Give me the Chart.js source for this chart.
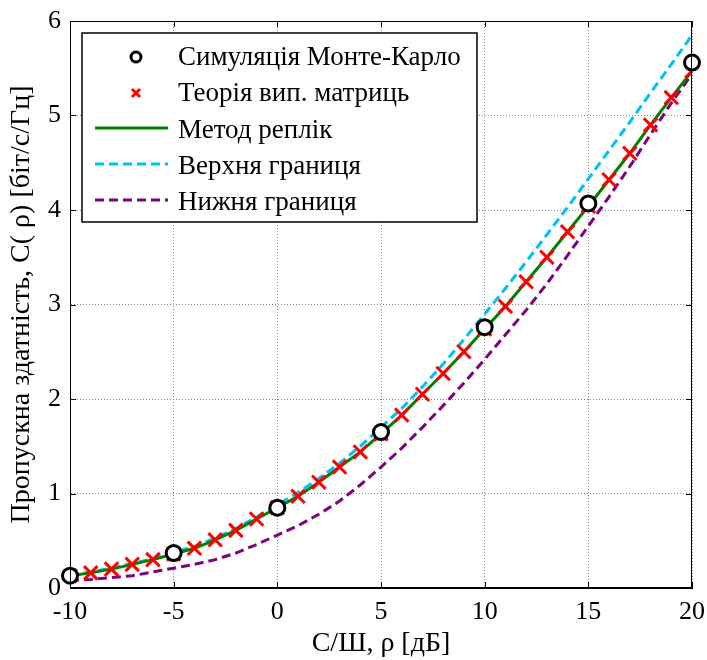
<!DOCTYPE html>
<html>
<head>
<meta charset="utf-8">
<script src="https://cdn.jsdelivr.net/npm/chart.js@4.4.1/dist/chart.umd.min.js"></script>
<style>
  html, body { margin: 0; padding: 0; background: #fff; }
</style>
</head>
<body>
<canvas id="capChart" width="707" height="660"></canvas>
<script>
// SNR grid, dB
const snrDb = [-10, -9, -8, -7, -6, -5, -4, -3, -2, -1, 0, 1, 2, 3, 4, 5,
               6, 7, 8, 9, 10, 11, 12, 13, 14, 15, 16, 17, 18, 19, 20];

// Monte-Carlo simulation (every 5 dB)
const mcSnr = [-10, -5, 0, 5, 10, 15, 20];
const mcCap = [0.13, 0.37, 0.85, 1.65, 2.76, 4.07, 5.56];

// random matrix theory (crosses)
const theoryCap = [0.13, 0.16, 0.20, 0.25, 0.30, 0.36, 0.42, 0.51, 0.61, 0.73, 0.85,
                   0.97, 1.12, 1.28, 1.44, 1.63, 1.83, 2.05, 2.27, 2.50, 2.74,
                   2.98, 3.24, 3.50, 3.77, 4.04, 4.32, 4.60, 4.90, 5.19, 5.47];

// replica method (solid green)
const replicaCap = [0.13, 0.16, 0.20, 0.25, 0.30, 0.36, 0.42, 0.51, 0.61, 0.73, 0.85,
                    0.97, 1.12, 1.28, 1.44, 1.63, 1.83, 2.05, 2.27, 2.50, 2.74,
                    2.98, 3.24, 3.50, 3.77, 4.04, 4.32, 4.60, 4.90, 5.19, 5.47];

// upper / lower bounds
const upperCap = [0.14, 0.17, 0.21, 0.26, 0.31, 0.38, 0.44, 0.53, 0.63, 0.75, 0.88,
                  1.01, 1.16, 1.32, 1.50, 1.70, 1.90, 2.13, 2.37, 2.63, 2.90,
                  3.17, 3.45, 3.74, 4.03, 4.33, 4.63, 4.93, 5.24, 5.54, 5.85];
const lowerCap = [0.08, 0.09, 0.11, 0.13, 0.17, 0.21, 0.25, 0.30, 0.37, 0.46, 0.56,
                  0.66, 0.78, 0.92, 1.09, 1.28, 1.48, 1.70, 1.93, 2.17, 2.42,
                  2.68, 2.94, 3.22, 3.52, 3.83, 4.14, 4.46, 4.80, 5.13, 5.44];

const xTicks = [-10, -5, 0, 5, 10, 15, 20];
const yTicks = [0, 1, 2, 3, 4, 5, 6];

const legendLabels = ['Симуляція Монте-Карло', 'Теорія вип. матриць', 'Метод реплік',
                      'Верхня границя', 'Нижня границя'];

const FONT = "'Liberation Serif', 'Times New Roman', serif";

function pts(xs, ys) {
   return xs.map((x, i) => ({ x: x, y: ys[i] }));
}

// inward tick marks + top/right box, like matlab axes
const axesBox = {
   id: 'axesBox',
   afterDatasetsDraw(chart) {
      const { ctx, chartArea: a, scales } = chart;
      ctx.save();
      ctx.strokeStyle = '#000';
      ctx.lineWidth = 1;
      ctx.strokeRect(a.left + 0.5, a.top + 0.5, a.right - a.left - 1, a.bottom - a.top - 1);
      ctx.beginPath();
      xTicks.forEach(v => {
         const px = Math.round(scales.x.getPixelForValue(v)) + 0.5;
         ctx.moveTo(px, a.bottom); ctx.lineTo(px, a.bottom - 6);
         ctx.moveTo(px, a.top); ctx.lineTo(px, a.top + 6);
      });
      yTicks.forEach(v => {
         const py = Math.round(scales.y.getPixelForValue(v)) + 0.5;
         ctx.moveTo(a.left, py); ctx.lineTo(a.left + 6, py);
         ctx.moveTo(a.right, py); ctx.lineTo(a.right - 6, py);
      });
      ctx.stroke();
      ctx.restore();
   }
};

// legend box drawn inside the plot, upper left
const legendBox = {
   id: 'legendBox',
   afterDraw(chart) {
      const ctx = chart.ctx;
      const bx = 82, by = 33, bw = 395, bh = 189;
      ctx.save();
      ctx.fillStyle = '#fff';
      ctx.fillRect(bx, by, bw, bh);
      ctx.strokeStyle = '#000';
      ctx.lineWidth = 1.5;
      ctx.strokeRect(bx, by, bw, bh);
      ctx.font = '27px ' + FONT;
      ctx.fillStyle = '#000';
      ctx.textBaseline = 'middle';
      const rowY = [57, 93, 130, 166, 202];
      legendLabels.forEach((t, i) => ctx.fillText(t, 178, rowY[i] + 1));

      // circle marker
      ctx.lineWidth = 3;
      ctx.strokeStyle = '#000';
      ctx.beginPath();
      ctx.arc(136, rowY[0], 5, 0, Math.PI * 2);
      ctx.stroke();
      // cross marker
      ctx.strokeStyle = '#ff0000';
      ctx.beginPath();
      ctx.moveTo(132, rowY[1] - 4); ctx.lineTo(140, rowY[1] + 4);
      ctx.moveTo(140, rowY[1] - 4); ctx.lineTo(132, rowY[1] + 4);
      ctx.stroke();
      // line samples
      const seg = (y, col, dash) => {
         ctx.strokeStyle = col;
         ctx.setLineDash(dash);
         ctx.beginPath();
         ctx.moveTo(95, y); ctx.lineTo(168, y);
         ctx.stroke();
      };
      seg(rowY[2] - 2, '#008000', []);
      seg(rowY[3] - 2, '#00bfff', [9, 5]);
      seg(rowY[4] - 2, '#800080', [9, 5]);
      ctx.restore();
   }
};

const ctx = document.getElementById('capChart').getContext('2d');
new Chart(ctx, {
   type: 'scatter',
   data: {
      datasets: [
         {
            label: legendLabels[0],
            data: pts(mcSnr, mcCap),
            showLine: false,
            pointStyle: 'circle',
            pointRadius: 7.5,
            pointBorderWidth: 3,
            pointBorderColor: '#000',
            pointBackgroundColor: '#fff',
            clip: false,
            order: 0
         },
         {
            label: legendLabels[1],
            data: pts(snrDb, theoryCap),
            showLine: false,
            pointStyle: 'crossRot',
            pointRadius: 9.5,
            pointBorderWidth: 3,
            pointBorderColor: '#ff0000',
            order: 1
         },
         {
            label: legendLabels[2],
            data: pts(snrDb, replicaCap),
            showLine: true,
            borderColor: '#008000',
            borderWidth: 3,
            pointRadius: 0,
            order: 2
         },
         {
            label: legendLabels[3],
            data: pts(snrDb, upperCap),
            showLine: true,
            borderColor: '#00bfff',
            borderWidth: 3,
            borderDash: [9, 5],
            pointRadius: 0,
            order: 3
         },
         {
            label: legendLabels[4],
            data: pts(snrDb, lowerCap),
            showLine: true,
            borderColor: '#800080',
            borderWidth: 3,
            borderDash: [9, 5],
            pointRadius: 0,
            order: 4
         }
      ]
   },
   options: {
      responsive: false,
      animation: false,
      layout: { padding: { top: 21, right: 15, left: 0, bottom: 0 } },
      plugins: {
         legend: { display: false },
         tooltip: { enabled: false }
      },
      scales: {
         x: {
            type: 'linear',
            min: -10, max: 20,
            afterFit: s => { s.height = 72; s.paddingLeft = 0; s.paddingRight = 0; },
            afterBuildTicks: s => { s.ticks = xTicks.map(v => ({ value: v })); },
            grid: { color: '#8a8a8a', lineWidth: 1, drawTicks: false },
            border: { display: true, color: '#000', dash: [1, 2] },
            ticks: { color: '#000', font: { family: FONT, size: 26 }, padding: 9, maxRotation: 0 },
            title: { display: true, text: 'С/Ш, ρ [дБ]', color: '#000',
                     font: { family: FONT, size: 28 }, padding: { top: 0, bottom: 0 } }
         },
         y: {
            type: 'linear',
            min: 0, max: 6,
            afterFit: s => { s.width = 70; s.paddingTop = 0; s.paddingBottom = 0; },
            afterBuildTicks: s => { s.ticks = yTicks.map(v => ({ value: v })); },
            grid: { color: '#8a8a8a', lineWidth: 1, drawTicks: false },
            border: { display: true, color: '#000', dash: [1, 2] },
            ticks: { color: '#000', font: { family: FONT, size: 26 }, padding: 9 },
            title: { display: true, text: 'Пропускна здатність, C( ρ) [біт/с/Гц]', color: '#000',
                     font: { family: FONT, size: 28 }, padding: { top: 5, bottom: 0 } }
         }
      }
   },
   plugins: [axesBox, legendBox]
});
</script>
</body>
</html>
